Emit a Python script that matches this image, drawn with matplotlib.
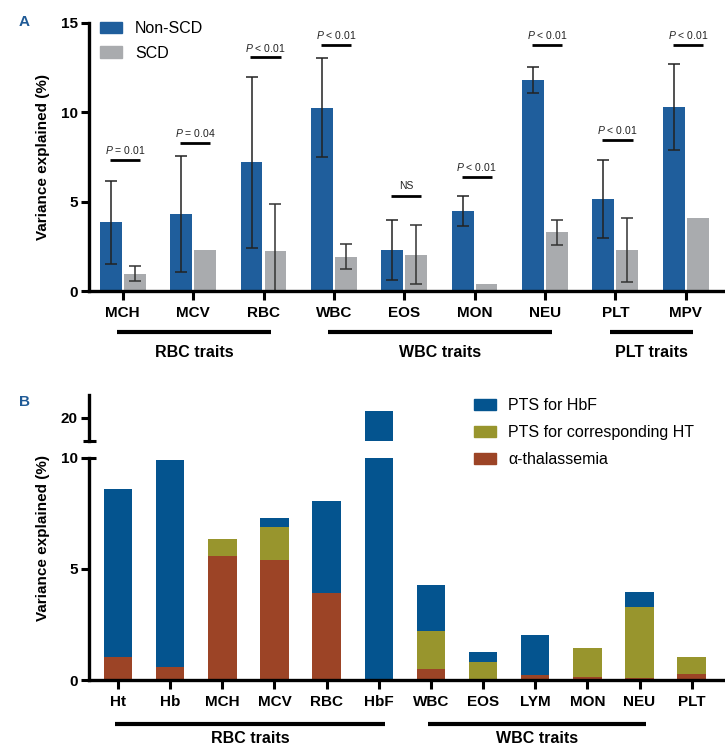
import numpy as np
import matplotlib
matplotlib.use('Agg')
import matplotlib.pyplot as plt
from matplotlib.patches import Patch

plt.rcParams['font.family'] = ['Liberation Sans', 'DejaVu Sans']
plt.rcParams['mathtext.fontset'] = 'custom'
plt.rcParams['mathtext.it'] = 'Liberation Sans:italic'
plt.rcParams['mathtext.rm'] = 'Liberation Sans'

# Panel A data
traits_a = ['MCH', 'MCV', 'RBC', 'WBC', 'EOS', 'MON', 'NEU', 'PLT', 'MPV']
nonscd = [3.84, 4.29, 7.2, 10.26, 2.28, 4.49, 11.79, 5.13, 10.3]
nonscd_lo = [1.49, 1.05, 2.39, 7.52, 0.62, 3.64, 11.1, 2.95, 7.89]
nonscd_hi = [6.15, 7.57, 12.0, 13.02, 3.99, 5.33, 12.52, 7.31, 12.72]
scd = [0.97, 2.28, 2.26, 1.92, 2.01, 0.41, 3.28, 2.28, 4.07]
scd_lo = [0.54, None, 0.0, 1.25, 0.39, None, 2.57, 0.52, None]
scd_hi = [1.40, None, 4.85, 2.61, 3.67, None, 3.99, 4.07, None]
pvals = ['$P$ = 0.01', '$P$ = 0.04', '$P$ < 0.01', '$P$ < 0.01', 'NS',
         '$P$ < 0.01', '$P$ < 0.01', '$P$ < 0.01', '$P$ < 0.01']
p_heights = [7.35, 8.28, 13.07, 13.75, 5.33, 6.37, 13.75, 8.45, 13.75]
groups_a = [('RBC traits', 0, 2), ('WBC traits', 3, 6), ('PLT traits', 7, 8)]

# Panel B data
traits_b = ['Ht', 'Hb', 'MCH', 'MCV', 'RBC', 'HbF', 'WBC', 'EOS', 'LYM', 'MON', 'NEU', 'PLT']
alpha_thal = [1.05, 0.58, 5.58, 5.40, 3.93, 0, 0.48, 0, 0.21, 0.12, 0.10, 0.26]
pts_ht = [0, 0, 0.78, 1.48, 0, 0, 1.72, 0.80, 0, 1.31, 3.20, 0.79]
pts_hbf = [7.54, 9.33, 0, 0.41, 4.14, 20.3, 2.06, 0.45, 1.80, 0, 0.66, 0]
groups_b = [('RBC traits', 0, 5), ('WBC traits', 6, 10)]

# colours
c_nonscd = '#1f5e9c'
c_scd = '#a9abae'
c_hbf = '#04548f'
c_ht = '#98952d'
c_alpha = '#9c4426'
c_letter = '#1f5a96'

W, H = 725, 752
fig = plt.figure(figsize=(W / 100, H / 100), dpi=100)


def px_axes(left, right, top, bottom):
    return fig.add_axes([left / W, 1 - bottom / H, (right - left) / W, (bottom - top) / H])


def style(ax, xaxis=True):
    for s in ['top', 'right']:
        ax.spines[s].set_visible(False)
    ax.spines['left'].set_linewidth(2.4)
    ax.spines['bottom'].set_linewidth(2.4)
    ax.tick_params(axis='y', length=6, width=2.2, pad=2, labelsize=11)
    ax.tick_params(axis='x', length=6.5, width=2.2, pad=4, labelsize=11)
    for lab in ax.get_yticklabels() + ax.get_xticklabels():
        lab.set_fontweight('bold')
    if not xaxis:
        ax.spines['bottom'].set_visible(False)
        ax.tick_params(axis='x', bottom=False, labelbottom=False)


# ---------------- Panel A ----------------
axA = px_axes(89, 723, 22.9, 291)
x = np.arange(len(traits_a))
off, bw = 0.17, 0.31
axA.bar(x - off, nonscd, bw, color=c_nonscd, label='Non-SCD', zorder=1)
axA.bar(x + off, scd, bw, color=c_scd, label='SCD', zorder=1)

# error bars
for i in range(len(traits_a)):
    axA.errorbar(x[i] - off, nonscd[i],
                 yerr=[[nonscd[i] - nonscd_lo[i]], [nonscd_hi[i] - nonscd[i]]],
                 fmt='none', ecolor='#222222', elinewidth=1.1, capsize=4, capthick=1.1, zorder=2)
    if scd_lo[i] is not None:
        axA.errorbar(x[i] + off, scd[i],
                     yerr=[[scd[i] - scd_lo[i]], [scd_hi[i] - scd[i]]],
                     fmt='none', ecolor='#333333', elinewidth=1.1, capsize=4, capthick=1.1, zorder=2)

# P value lines
for i in range(len(traits_a)):
    axA.plot([x[i] + 0.03 - 0.215, x[i] + 0.03 + 0.215], [p_heights[i], p_heights[i]],
             color='black', lw=2, solid_capstyle='butt')
    axA.text(x[i] + 0.03, p_heights[i] + 0.55, pvals[i], ha='center', va='center',
             fontsize=7.5, color='#222222')

axA.set_xlim(-0.48, 8.53)
axA.set_ylim(0, 15)
axA.set_yticks([0, 5, 10, 15])
axA.set_xticks(x)
axA.set_xticklabels(traits_a)
style(axA)
axA.set_ylabel('Variance explained (%)', fontsize=11, fontweight='bold')
axA.yaxis.set_label_coords(-0.062, 0.5)

# trait groups under the axis
for name, a, b in groups_a:
    axA.plot([a - 0.08, b + 0.1], [-0.154, -0.154], transform=axA.get_xaxis_transform(),
             color='black', lw=3, clip_on=False, solid_capstyle='butt')
    axA.text((a + b) / 2 + 0.01, -0.228, name, transform=axA.get_xaxis_transform(),
             ha='center', va='center', fontsize=11.5, fontweight='bold')

fig.legend(handles=[Patch(color=c_nonscd, label='Non-SCD'), Patch(color=c_scd, label='SCD')],
           loc='upper left', bbox_to_anchor=(100 / W, 1 - 21 / H), frameon=False,
           fontsize=11.5, handlelength=1.4, handleheight=0.75, handletextpad=0.8,
           labelspacing=0.6, borderpad=0, borderaxespad=0)

# ---------------- Panel B ----------------
axB = px_axes(89, 723, 457.7, 680)
axT = px_axes(89, 723, 395, 441)
xb = np.arange(len(traits_b))
bwb = 0.545
bottom_ht = np.array(alpha_thal)
bottom_hbf = np.array(alpha_thal) + np.array(pts_ht)
for ax in [axB, axT]:
    ax.bar(xb, alpha_thal, bwb, color=c_alpha)
    ax.bar(xb, pts_ht, bwb, bottom=bottom_ht, color=c_ht)
    ax.bar(xb, pts_hbf, bwb, bottom=bottom_hbf, color=c_hbf)
    ax.set_xlim(-0.556, 11.6)

axB.set_ylim(0, 10)
axB.set_yticks([0, 5, 10])
axB.set_xticks(xb)
axB.set_xticklabels(traits_b)
style(axB)
axB.set_ylabel('Variance explained (%)', fontsize=11, fontweight='bold')
axB.yaxis.set_label_coords(-0.062, 0.641)

axT.set_ylim(18.95, 21.02)
axT.set_yticks([20])
style(axT, xaxis=False)

# axis break caps
axB.plot([0, 7 / 634], [1, 1], transform=axB.transAxes, color='black', lw=2.2,
         clip_on=False, solid_capstyle='butt')
axT.plot([-6 / 634, 7 / 634], [0, 0], transform=axT.transAxes, color='black', lw=2.2,
         clip_on=False, solid_capstyle='butt')

for name, a, b in groups_b:
    axB.plot([a - 0.06, b + 0.12], [-0.198, -0.198], transform=axB.get_xaxis_transform(),
             color='black', lw=3, clip_on=False, solid_capstyle='butt')
    axB.text((a + b) / 2 + 0.03, -0.262, name, transform=axB.get_xaxis_transform(),
             ha='center', va='center', fontsize=11.5, fontweight='bold')

fig.legend(handles=[Patch(color=c_hbf, label='PTS for HbF'),
                    Patch(color=c_ht, label='PTS for corresponding HT'),
                    Patch(color=c_alpha, label='α-thalassemia')],
           loc='upper left', bbox_to_anchor=(474 / W, 1 - 398 / H), frameon=False,
           fontsize=11.5, handlelength=1.35, handleheight=0.7, handletextpad=0.8,
           labelspacing=0.75, borderpad=0, borderaxespad=0)

# panel letters
fig.text(24 / W, 1 - 22 / H, 'A', fontsize=11, fontweight='bold', color=c_letter,
         ha='center', va='center')
fig.text(24 / W, 1 - 402 / H, 'B', fontsize=11, fontweight='bold', color=c_letter,
         ha='center', va='center')

fig.savefig('out.png', dpi=100)
plt.close()
